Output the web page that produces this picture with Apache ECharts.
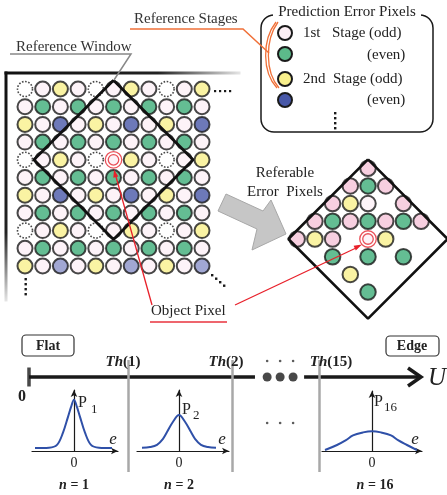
<!DOCTYPE html>
<html><head><meta charset="utf-8">
<script src="https://cdn.jsdelivr.net/npm/echarts@6.0.0/dist/echarts.min.js"></script>
<style>html,body{margin:0;padding:0;background:#fff}#c{width:447px;height:495px}</style>
</head><body><div id="c"></div>
<script>
// ---- data ----
const windowRows = [
  'dpypdpypdpy',
  'pgpgpgpgpgp',
  'ypbpypbpypb',
  'pgpgpgpgpgp',
  'dpypdoypdpy',
  'pgpgpgpgpgp',
  'ypbpypbpypb',
  'pgpgpgpgpgp',
  'dpypdpypdpy',
  'pgpgpgpgpgp',
  'yplpyplpypl'
];
const objectPixel = [5, 4];
const windowDiamond = [[5, -0.5], [9.5, 4], [5, 8.5], [0.5, 4], [5, -0.5]];
const referable = [
  [0, -4, 'P'],
  [-1, -3, 'P'], [0, -3, 'g'], [1, -3, 'P'],
  [-2, -2, 'P'], [-1, -2, 'y'], [0, -2, 'p'], [2, -2, 'P'],
  [-3, -1, 'P'], [-2, -1, 'g'], [-1, -1, 'P'], [0, -1, 'g'], [1, -1, 'P'], [2, -1, 'g'], [3, -1, 'P'],
  [-4, 0, 'P'], [-3, 0, 'y'], [-2, 0, 'P'], [1, 0, 'y'],
  [-2, 1, 'g'], [0, 1, 'g'], [2, 1, 'g'],
  [-1, 2, 'y'],
  [0, 3, 'g']
];
const referObject = [0, 0];
const referDiamond = [[0, -4.5], [4.5, 0], [0, 4.5], [-4.5, 0], [0, -4.5]];
const thNames = ['(1)', '(2)', '(15)'];
const thValues = [25.2, 51.7, 73.8];
const axisDots = [60.6, 63.9, 67.2];
const e1 = [-3.9, -2.5, -1.7, -1.1, -0.6, -0.3, 0, 0.3, 0.6, 1.1, 1.7, 2.5, 3.8];
const p1 = [0.05, 0.055, 0.1, 0.3, 0.56, 0.72, 0.84, 0.72, 0.56, 0.3, 0.1, 0.055, 0.05];
const e2 = [-3.7, -2.9, -2.2, -1.6, -1.2, -0.6, 0, 0.6, 1.2, 1.6, 2.2, 2.9, 3.7];
const p2 = [0.055, 0.065, 0.1, 0.2, 0.31, 0.48, 0.59, 0.48, 0.31, 0.2, 0.1, 0.065, 0.055];
const e16 = [-4.7, -3.5, -2.6, -1.9, -0.9, 0, 0.9, 1.9, 2.6, 3.5, 4.5];
const p16 = [0.016, 0.1, 0.18, 0.26, 0.31, 0.33, 0.31, 0.26, 0.18, 0.1, 0.016];
const legendCodes = ['p', 'G', 'y', 'b'];
const pSubs = ['1', '2', '16'];
const nLabels = ['1', '2', '16'];

// ---- styles ----
const SERIF = '"Liberation Serif","DejaVu Serif",serif';
const INK = '#1a1a1a';
const fills = {
  p: '#fdf0f6', g: '#3dac78', G: '#5cba8a', y: '#f9f08c', b: '#4858a8',
  l: '#8a91c8', P: '#f5c3d8', d: '#ffffff'
};
function itemStyle(code) {
  const s = { color: fills[code], borderColor: INK, borderWidth: 2 };
  if (code === 'd') { s.borderType = 'dotted'; s.borderWidth = 1.6; }
  return s;
}
const windowData = [];
windowRows.forEach((row, r) => {
  row.split('').forEach((code, c) => {
    if (code !== 'o') windowData.push({ value: [c, r], itemStyle: itemStyle(code) });
  });
});
const referData = referable.map(d => ({ value: [d[0], d[1]], itemStyle: itemStyle(d[2]) }));

const S = 17.7;
const hidden = { show: false };
function gridPx(l, t, w, h) {
  return { left: l, top: t, width: w, height: h, containLabel: false, outerBoundsMode: 'none' };
}
function plotAxes(idx, min, max) {
  return {
    x: { type: 'value', gridIndex: idx, min: min, max: max, splitLine: hidden, axisTick: hidden, axisLabel: hidden,
      axisLine: { show: true, onZero: true, symbol: ['none', 'arrow'], symbolSize: [5, 7], lineStyle: { color: INK, width: 1.2 } } },
    y: { type: 'value', gridIndex: idx, min: 0, max: 1, splitLine: hidden, axisTick: hidden, axisLabel: hidden,
      axisLine: { show: true, onZero: true, symbol: ['none', 'arrow'], symbolSize: [5, 7], lineStyle: { color: INK, width: 1.2 } } }
  };
}
const a3 = plotAxes(3, -4.2, 4.4), a4 = plotAxes(4, -4.2, 5.0), a5 = plotAxes(5, -5, 5);

function txt(text, x, y, opt) {
  return { type: 'text', z: 50, style: Object.assign({
    text: text, x: x, y: y, fill: '#222', fontSize: 15, fontFamily: SERIF,
    align: 'left', verticalAlign: 'middle', textAlign: 'left', textVerticalAlign: 'middle'
  }, opt || {}) };
}
function ctxt(text, x, y, opt) {
  return txt(text, x, y, Object.assign({ align: 'center', textAlign: 'center' }, opt || {}));
}
function line(x1, y1, x2, y2, stroke, w) {
  return { type: 'line', z: 40, shape: { x1, y1, x2, y2 }, style: { stroke, lineWidth: w } };
}

const graphics = [];
// frame
graphics.push({ type: 'rect', z: 1, shape: { x: 4.5, y: 71.5, width: 236, height: 3 },
  style: { fill: new echarts.graphic.LinearGradient(0, 0, 1, 0, [
    { offset: 0, color: '#111' }, { offset: 0.65, color: '#222' }, { offset: 1, color: '#e6e6e6' }]) } });
graphics.push({ type: 'rect', z: 1, shape: { x: 4.5, y: 71.5, width: 3, height: 230 },
  style: { fill: new echarts.graphic.LinearGradient(0, 0, 0, 1, [
    { offset: 0, color: '#111' }, { offset: 0.7, color: '#222' }, { offset: 1, color: '#e6e6e6' }]) } });
// continuation dots
[215, 220, 225, 230].forEach(x => graphics.push({ type: 'rect', z: 2, shape: { x: x - 1, y: 90, width: 2.2, height: 2.2 }, style: { fill: INK } }));
[279, 284, 289, 294].forEach(y => graphics.push({ type: 'rect', z: 2, shape: { x: 24.5, y: y - 1, width: 2.4, height: 2.4 }, style: { fill: INK } }));
[[212, 275], [216, 278.5], [220, 282], [224, 285.5]].forEach(p => graphics.push({ type: 'rect', z: 2, shape: { x: p[0] - 1, y: p[1] - 1, width: 2.4, height: 2.4 }, style: { fill: INK } }));

// Reference Window label
graphics.push(txt('Reference Window', 16, 47, { fill: '#333' }));
graphics.push({ type: 'polyline', z: 40, shape: { points: [[10, 54], [131, 54], [114, 80]] }, style: { stroke: '#888', lineWidth: 1.5, fill: null } });
// Reference Stages label
graphics.push(txt('Reference Stages', 134, 19, { fill: '#333' }));
graphics.push({ type: 'polyline', z: 40, shape: { points: [[130, 29], [243, 29], [269, 53]] }, style: { stroke: '#f07038', lineWidth: 1.5, fill: null } });
graphics.push({ type: 'bezierCurve', z: 40, shape: { x1: 276, y1: 22, x2: 277, y2: 88, cpx1: 262, cpy1: 40, cpx2: 262, cpy2: 72 }, style: { stroke: '#f07038', lineWidth: 1.3, fill: null } });
graphics.push({ type: 'bezierCurve', z: 40, shape: { x1: 278, y1: 22, x2: 279, y2: 88, cpx1: 265, cpy1: 40, cpx2: 265, cpy2: 72 }, style: { stroke: '#f07038', lineWidth: 1.3, fill: null } });

// legend box
graphics.push({ type: 'rect', z: 30, shape: { x: 261, y: 15, width: 172, height: 117, r: 13 }, style: { stroke: INK, lineWidth: 1.5, fill: null } });
graphics.push({ type: 'rect', z: 31, shape: { x: 273, y: 4, width: 148, height: 18 }, style: { fill: '#fff' } });
graphics.push(ctxt('Prediction Error Pixels', 347, 12));
const legY = [33, 54, 79, 100];
legendCodes.forEach((c, i) => graphics.push({ type: 'circle', z: 32, shape: { cx: 285, cy: legY[i], r: 7 }, style: { fill: fills[c], stroke: INK, lineWidth: 2 } }));
graphics.push(txt('1st', 303, 33));
graphics.push(txt('Stage (odd)', 332, 33));
graphics.push(txt('(even)', 367, 55));
graphics.push(txt('2nd', 303, 79));
graphics.push(txt('Stage (odd)', 333, 79));
graphics.push(txt('(even)', 367, 100));
[113, 118, 123, 128].forEach(y => graphics.push({ type: 'rect', z: 32, shape: { x: 334, y: y - 1, width: 2.4, height: 2.4 }, style: { fill: INK } }));

// big grey arrow
graphics.push({ type: 'polygon', z: 20, shape: { points: [[226, 194], [263, 211], [271, 200], [286, 234], [252, 250], [257, 229], [218, 211]] },
  style: { fill: '#c6c6c6', stroke: '#a8a8a8', lineWidth: 1 } });
graphics.push(ctxt('Referable', 285, 173));
graphics.push(ctxt('Error  Pixels', 285, 192));

// object pixel label & red arrows
graphics.push(txt('Object Pixel', 151, 311));
graphics.push(line(150, 322, 227, 322, '#e8323c', 1.6));
graphics.push(line(152, 305, 115.5, 175, '#e8202a', 1.3));
graphics.push({ type: 'polygon', z: 41, shape: { points: [[114, 169.5], [118.3, 176.5], [113.3, 177.8]] }, style: { fill: '#e8202a' } });
graphics.push(line(235, 305, 356, 248, '#e8202a', 1.3));
graphics.push({ type: 'polygon', z: 41, shape: { points: [[362, 244.5], [355.8, 250.5], [353.6, 245.8]] }, style: { fill: '#e8202a' } });

// bottom labels
graphics.push({ type: 'rect', z: 30, shape: { x: 22, y: 335, width: 52, height: 21, r: 4 }, style: { stroke: '#333', lineWidth: 1.2, fill: '#fff' } });
graphics.push(ctxt('Flat', 48, 346, { fontWeight: 'bold', fontSize: 14 }));
graphics.push({ type: 'rect', z: 30, shape: { x: 386, y: 336, width: 53, height: 20, r: 4 }, style: { stroke: '#333', lineWidth: 1.2, fill: '#fff' } });
graphics.push(ctxt('Edge', 412, 346, { fontWeight: 'bold', fontSize: 14 }));
graphics.push(ctxt('0', 22, 397, { fontWeight: 'bold', fontSize: 16 }));
graphics.push(ctxt('U', 437, 378, { fontStyle: 'italic', fontSize: 25 }));
graphics.push({ type: 'polyline', z: 40, shape: { points: [[408, 368], [421, 377], [408, 386]] }, style: { stroke: INK, lineWidth: 3.5, fill: null } });
const thX = [123, 226, 331];
thNames.forEach((n, i) => graphics.push(ctxt('{a|Th}{b|' + n + '}', thX[i], 362, {
  rich: { a: { fontStyle: 'italic', fontWeight: 'bold', fontSize: 15, fontFamily: SERIF }, b: { fontWeight: 'bold', fontSize: 15, fontFamily: SERIF } } })));
// plot labels
const pPos = [[78, 403, 91, 410], [182, 410, 193, 416], [374, 402, 384, 408]];
pSubs.forEach((s, i) => {
  const p = pPos[i];
  graphics.push(txt('P', p[0], p[1], { fontSize: 16 }));
  graphics.push(txt(s, p[2], p[3], { fontSize: 13 }));
});
[113, 222, 415].forEach(x => graphics.push(ctxt('e', x, 440, { fontStyle: 'italic', fontSize: 17 })));
const plotX0 = [74, 179, 372];
plotX0.forEach(x => graphics.push(ctxt('0', x, 463, { fontSize: 14 })));
const nX = [74, 179, 375];
nLabels.forEach((n, i) => graphics.push(ctxt('{i|n}{b| = ' + n + '}', nX[i], 485, {
  rich: { i: { fontStyle: 'italic', fontWeight: 'bold', fontSize: 14, fontFamily: SERIF }, b: { fontWeight: 'bold', fontSize: 14, fontFamily: SERIF } } })));

const redRing = { color: '#fff', borderColor: '#e42530', borderWidth: 1.3 };
const redCore = { color: '#fdf0f6', borderColor: '#e42530', borderWidth: 1.3 };

const option = {
  animation: false,
  backgroundColor: '#fff',
  grid: [
    gridPx(25 - 0.5 * S, 89 - 0.5 * S, 11 * S, 11 * S),
    gridPx(368 - 4.5 * S, 239 - 4.5 * S, 9 * S, 9 * S),
    gridPx(29, 360, 393, 112),
    gridPx(32, 390, 86, 61),
    gridPx(137, 390, 92, 61),
    gridPx(322, 391, 100, 60)
  ],
  xAxis: [
    { type: 'value', gridIndex: 0, min: -0.5, max: 10.5, show: false },
    { type: 'value', gridIndex: 1, min: -4.5, max: 4.5, show: false },
    { type: 'value', gridIndex: 2, min: 0, max: 100, show: false },
    a3.x, a4.x, a5.x
  ],
  yAxis: [
    { type: 'value', gridIndex: 0, min: -0.5, max: 10.5, inverse: true, show: false },
    { type: 'value', gridIndex: 1, min: -4.5, max: 4.5, inverse: true, show: false },
    { type: 'value', gridIndex: 2, min: -95, max: 17, show: false },
    a3.y, a4.y, a5.y
  ],
  graphic: { elements: graphics },
  series: [
    { type: 'scatter', xAxisIndex: 0, yAxisIndex: 0, symbolSize: 15, data: windowData, z: 2, silent: true },
    { type: 'line', xAxisIndex: 0, yAxisIndex: 0, data: windowDiamond, symbol: 'none', clip: false, z: 5,
      lineStyle: { color: '#111', width: 2.8 } },
    { type: 'scatter', xAxisIndex: 0, yAxisIndex: 0, symbolSize: 16.5, data: [objectPixel], itemStyle: redRing, z: 6 },
    { type: 'scatter', xAxisIndex: 0, yAxisIndex: 0, symbolSize: 10.5, data: [objectPixel], itemStyle: redCore, z: 7 },
    { type: 'scatter', xAxisIndex: 1, yAxisIndex: 1, symbolSize: 15.5, data: referData, z: 2 },
    { type: 'line', xAxisIndex: 1, yAxisIndex: 1, data: referDiamond, symbol: 'none', clip: false, z: 5,
      lineStyle: { color: '#111', width: 2.6 } },
    { type: 'scatter', xAxisIndex: 1, yAxisIndex: 1, symbolSize: 16.5, data: [referObject], itemStyle: redRing, z: 6 },
    { type: 'scatter', xAxisIndex: 1, yAxisIndex: 1, symbolSize: 10.5, data: [referObject], itemStyle: redCore, z: 7 },
    { type: 'line', xAxisIndex: 2, yAxisIndex: 2, data: [[0, 0], [57.5, 0]], symbol: 'none', z: 3,
      lineStyle: { color: INK, width: 3.5 },
      markLine: { silent: true, symbol: ['none', 'none'], label: { show: false }, z: 4,
        lineStyle: { color: '#a8a8a8', width: 2.5, type: 'solid' },
        data: thValues.map(v => ({ xAxis: v })) } },
    { type: 'line', xAxisIndex: 2, yAxisIndex: 2, data: [[70, 0], [99, 0]], symbol: 'none', z: 3,
      lineStyle: { color: INK, width: 3.5 } },
    { type: 'scatter', xAxisIndex: 2, yAxisIndex: 2, symbol: 'rect', symbolSize: [3.5, 19], data: [[0, 0]], itemStyle: { color: INK }, z: 5 },
    { type: 'scatter', xAxisIndex: 2, yAxisIndex: 2, symbolSize: 9, data: axisDots.map(v => [v, 0]), itemStyle: { color: INK }, z: 5 },
    { type: 'scatter', xAxisIndex: 2, yAxisIndex: 2, symbolSize: 2.6, clip: false,
      data: axisDots.map(v => [v, 16]).concat(axisDots.map(v => [v, -46])), itemStyle: { color: '#333' }, z: 5 },
    { type: 'line', xAxisIndex: 3, yAxisIndex: 3, data: e1.map((e, i) => [e, p1[i]]), symbol: 'none', smooth: 0.35,
      lineStyle: { color: '#2f50a8', width: 2 }, z: 4 },
    { type: 'line', xAxisIndex: 4, yAxisIndex: 4, data: e2.map((e, i) => [e, p2[i]]), symbol: 'none', smooth: 0.35,
      lineStyle: { color: '#2f50a8', width: 2 }, z: 4 },
    { type: 'line', xAxisIndex: 5, yAxisIndex: 5, data: e16.map((e, i) => [e, p16[i]]), symbol: 'none', smooth: 0.4,
      lineStyle: { color: '#2f50a8', width: 2 }, z: 4 }
  ]
};
const chart = echarts.init(document.getElementById('c'), null, { renderer: 'canvas' });
chart.setOption(option);
</script></body></html>
